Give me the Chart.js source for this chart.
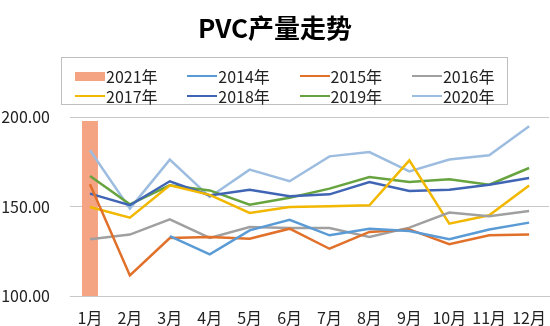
<!DOCTYPE html>
<html lang="zh">
<head>
<meta charset="UTF-8">
<title>PVC产量走势</title>
<script src="https://cdn.jsdelivr.net/npm/chart.js"></script>
<style>
    body {
        margin: 0;
        padding: 0;
        background: #fff;
        font-family: 'Noto Sans CJK SC', 'Noto Sans', sans-serif;
    }
    .wrap {
        position: relative;
        width: 550px;
        height: 326px;
        overflow: hidden;
    }
    canvas {
        position: absolute;
        left: 0;
        top: 0;
    }
    h1 {
        position: absolute;
        left: 0;
        top: 9px;
        width: 550px;
        margin: 0;
        text-align: center;
        font-size: 26px;
        line-height: 36px;
        font-weight: bold;
        color: #000;
    }
    #legend {
        position: absolute;
        left: 61px;
        top: 57px;
        width: 447px;
        height: 48px;
        border: 1px solid #bfbfbf;
        box-sizing: border-box;
    }
    .item {
        position: absolute;
        display: flex;
        align-items: center;
        height: 20px;
        font-size: 16px;
        color: #222;
    }
    .swatch {
        width: 30px;
        margin-right: 1px;
    }
</style>
</head>
<body>
<div class="wrap">
    <canvas id="chart" width="550" height="326"></canvas>
    <h1>PVC产量走势</h1>
    <div id="legend"></div>
</div>
<script>
// 月份
const months = ['1月', '2月', '3月', '4月', '5月', '6月', '7月', '8月', '9月', '10月', '11月', '12月'];

// 各年产量
const y2021 = [197.8, null, null, null, null, null, null, null, null, null, null, null];
const y2014 = [null, null, 133.5, 123.3, 136.7, 142.6, 133.9, 137.6, 136.3, 131.7, 137.2, 141.0];
const y2015 = [162.4, 111.5, 132.4, 133.0, 132.0, 137.6, 126.4, 135.8, 137.2, 128.9, 133.9, 134.4];
const y2016 = [131.7, 134.3, 142.8, 132.4, 138.5, 138.0, 138.0, 133.0, 138.2, 146.6, 144.5, 147.5];
const y2017 = [149.7, 143.8, 161.8, 156.5, 146.4, 149.7, 150.1, 150.7, 175.8, 140.4, 145.1, 161.8];
const y2018 = [157.2, 150.7, 164.1, 156.2, 159.4, 155.7, 156.8, 163.7, 158.7, 159.4, 162.2, 165.9];
const y2019 = [167.0, 151.2, 161.8, 159.0, 151.0, 154.9, 160.0, 166.5, 163.7, 165.2, 162.2, 171.5];
const y2020 = [181.4, 148.8, 176.2, 155.3, 170.6, 164.1, 178.0, 180.4, 169.6, 176.2, 178.6, 194.8];

const yTicks = [100, 150, 200];

const lineSeries = [
    { label: '2014年', data: y2014, color: '#5b9bd5' },
    { label: '2015年', data: y2015, color: '#e0702a' },
    { label: '2016年', data: y2016, color: '#a0a0a0' },
    { label: '2017年', data: y2017, color: '#f2b800' },
    { label: '2018年', data: y2018, color: '#4065b4' },
    { label: '2019年', data: y2019, color: '#67a43f' },
    { label: '2020年', data: y2020, color: '#9dbde0' }
];
const barColor = '#f4a383';

const datasets = [{
    type: 'bar',
    label: '2021年',
    data: y2021,
    backgroundColor: barColor,
    barPercentage: 0.4,
    categoryPercentage: 1,
    order: 10
}];
lineSeries.forEach(s => {
    datasets.push({
        type: 'line',
        label: s.label,
        data: s.data,
        borderColor: s.color,
        backgroundColor: s.color,
        borderWidth: 2.5,
        pointRadius: 0,
        tension: 0,
        spanGaps: false,
        order: 1
    });
});

// 图例 (两行四列)
const legendEl = document.getElementById('legend');
const order = [['2021年', barColor, true]].concat(lineSeries.map(s => [s.label, s.color, false]));
order.forEach((it, i) => {
    const col = i % 4, row = Math.floor(i / 4);
    const div = document.createElement('div');
    div.className = 'item';
    div.style.left = (13 + col * 112.3) + 'px';
    div.style.top = (8 + row * 20) + 'px';
    const sw = document.createElement('span');
    sw.className = 'swatch';
    sw.style.height = it[2] ? '9px' : '2px';
    sw.style.background = it[1];
    div.appendChild(sw);
    div.appendChild(document.createTextNode(it[0]));
    legendEl.appendChild(div);
});

const tickFont = { family: "'Noto Sans CJK SC', sans-serif", size: 16 };

new Chart(document.getElementById('chart'), {
    type: 'bar',
    data: { labels: months, datasets: datasets },
    options: {
        responsive: false,
        animation: false,
        layout: { padding: { top: 117, right: 0, bottom: 0, left: 0 } },
        plugins: {
            legend: { display: false },
            title: { display: false },
            tooltip: { enabled: false }
        },
        scales: {
            x: {
                grid: { display: false },
                border: { display: true, color: '#c8c8c8' },
                ticks: {
                    padding: 4,
                    color: '#222',
                    maxRotation: 0,
                    autoSkip: false,
                    font: tickFont
                },
                afterFit: scale => { scale.height = 30; }
            },
            y: {
                min: 100,
                max: 200,
                afterBuildTicks: scale => { scale.ticks = yTicks.map(v => ({ value: v })); },
                grid: { color: '#c8c8c8', drawTicks: false },
                border: { display: false },
                ticks: {
                    padding: 20,
                    color: '#222',
                    font: tickFont,
                    callback: v => Number(v).toFixed(2)
                },
                afterFit: scale => { scale.width = 70; }
            }
        }
    }
});
</script>
</body>
</html>
